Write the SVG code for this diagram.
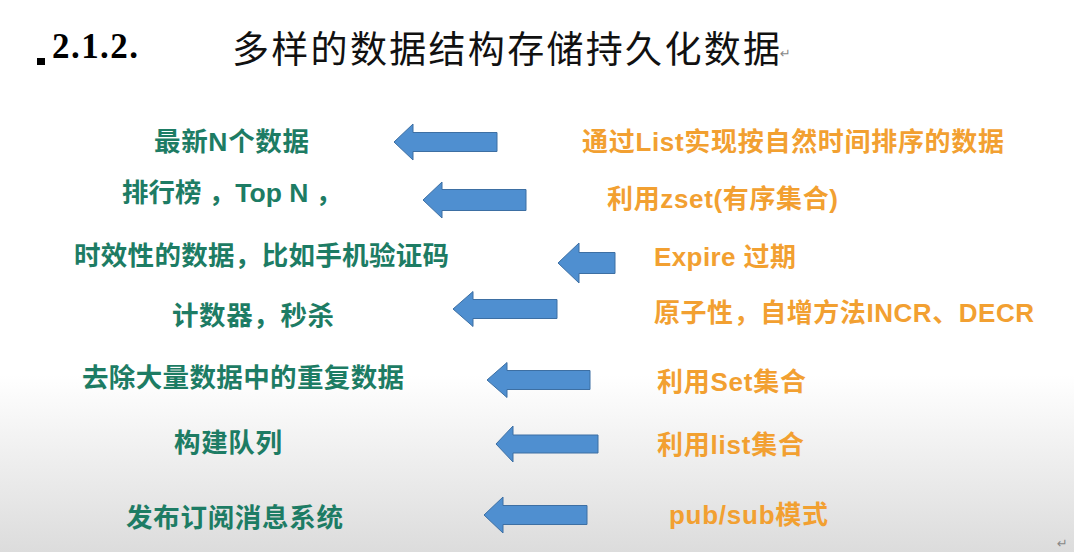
<svg xmlns="http://www.w3.org/2000/svg" width="1074" height="552" viewBox="0 0 1074 552">
  <defs>
    <linearGradient id="bg" x1="0" y1="0" x2="0" y2="1">
      <stop offset="0" stop-color="#ffffff"/>
      <stop offset="0.68" stop-color="#ffffff"/>
      <stop offset="1" stop-color="#dcdcdc"/>
    </linearGradient>
    <style>
      .left { font-family: "Liberation Sans", "Noto Sans CJK SC", sans-serif; font-weight: 700; font-size: 26.5px; fill: #1d7c64; }
      .right { font-family: "Liberation Sans", "Noto Sans CJK SC", sans-serif; font-weight: 700; font-size: 26px; fill: #f2a031; }
      .arrow { fill: #4f8fd0; stroke: #3d6fa3; stroke-width: 1; stroke-linejoin: miter; }
      .mark { font-family: "DejaVu Sans", sans-serif; font-size: 13px; fill: #888888; }
    </style>
  </defs>
  <rect x="0" y="0" width="1074" height="552" fill="url(#bg)"/>

  <g id="title">
    <rect x="37" y="58" width="8" height="7" fill="#000000"/>
    <text x="52" y="58" font-family="Liberation Serif, serif" font-weight="700" font-size="35" fill="#000000" textLength="86" lengthAdjust="spacing">2.1.2.</text>
    <text x="232" y="63" font-family="Noto Sans CJK SC, sans-serif" font-size="37" fill="#111111" textLength="548" lengthAdjust="spacing">多样的数据结构存储持久化数据</text>
    <text class="mark" x="780" y="58">↵</text>
  </g>

  <g id="uses">
    <g id="use-latest"><text class="left" x="154" y="151" textLength="155" lengthAdjust="spacing">最新N个数据</text></g>
    <g id="use-ranking"><text class="left" x="122" y="202">排行榜 ，Top N ，</text></g>
    <g id="use-expiry"><text class="left" x="74" y="265" textLength="375" lengthAdjust="spacing">时效性的数据，比如手机验证码</text></g>
    <g id="use-counter"><text class="left" x="172" y="325" textLength="162" lengthAdjust="spacing">计数器，秒杀</text></g>
    <g id="use-dedupe"><text class="left" x="82" y="387" textLength="322" lengthAdjust="spacing">去除大量数据中的重复数据</text></g>
    <g id="use-queue"><text class="left" x="174" y="452" textLength="108" lengthAdjust="spacing">构建队列</text></g>
    <g id="use-pubsub"><text class="left" x="126" y="527" textLength="217" lengthAdjust="spacing">发布订阅消息系统</text></g>
  </g>

  <g id="structures">
    <g id="ds-list"><text class="right" x="582" y="151" font-size="24" textLength="422" lengthAdjust="spacing">通过List实现按自然时间排序的数据</text></g>
    <g id="ds-zset"><text class="right" x="607" y="208" textLength="231" lengthAdjust="spacing">利用zset(有序集合)</text></g>
    <g id="ds-expire"><text class="right" x="654" y="266" textLength="142" lengthAdjust="spacing">Expire 过期</text></g>
    <g id="ds-incr"><text class="right" x="654" y="322" textLength="380" lengthAdjust="spacing">原子性，自增方法INCR、DECR</text></g>
    <g id="ds-set"><text class="right" x="657" y="391" textLength="149" lengthAdjust="spacing">利用Set集合</text></g>
    <g id="ds-listq"><text class="right" x="657" y="454" textLength="147" lengthAdjust="spacing">利用list集合</text></g>
    <g id="ds-pubsub"><text class="right" x="669" y="524" textLength="159" lengthAdjust="spacing">pub/sub模式</text></g>
  </g>

  <g id="connectors">
    <path class="arrow" d="M394,142 L413,124 L413,132.5 L497,132.5 L497,151.5 L413,151.5 L413,160 Z"/>
    <path class="arrow" d="M423,200 L442,182 L442,189.5 L526,189.5 L526,210.5 L442,210.5 L442,218 Z"/>
    <path class="arrow" d="M558,263 L579,243 L579,252.5 L615,252.5 L615,273.5 L579,273.5 L579,283 Z"/>
    <path class="arrow" d="M453,309 L473,291.5 L473,299.5 L557,299.5 L557,318.5 L473,318.5 L473,326.5 Z"/>
    <path class="arrow" d="M487,380 L507,362.5 L507,370.5 L590,370.5 L590,389.5 L507,389.5 L507,397.5 Z"/>
    <path class="arrow" d="M496,444 L513,426 L513,435 L598,435 L598,453 L513,453 L513,462 Z"/>
    <path class="arrow" d="M484,515 L503,497 L503,505.5 L587,505.5 L587,524.5 L503,524.5 L503,533 Z"/>
  </g>

  <text class="mark" x="1057" y="548">↵</text>
</svg>
